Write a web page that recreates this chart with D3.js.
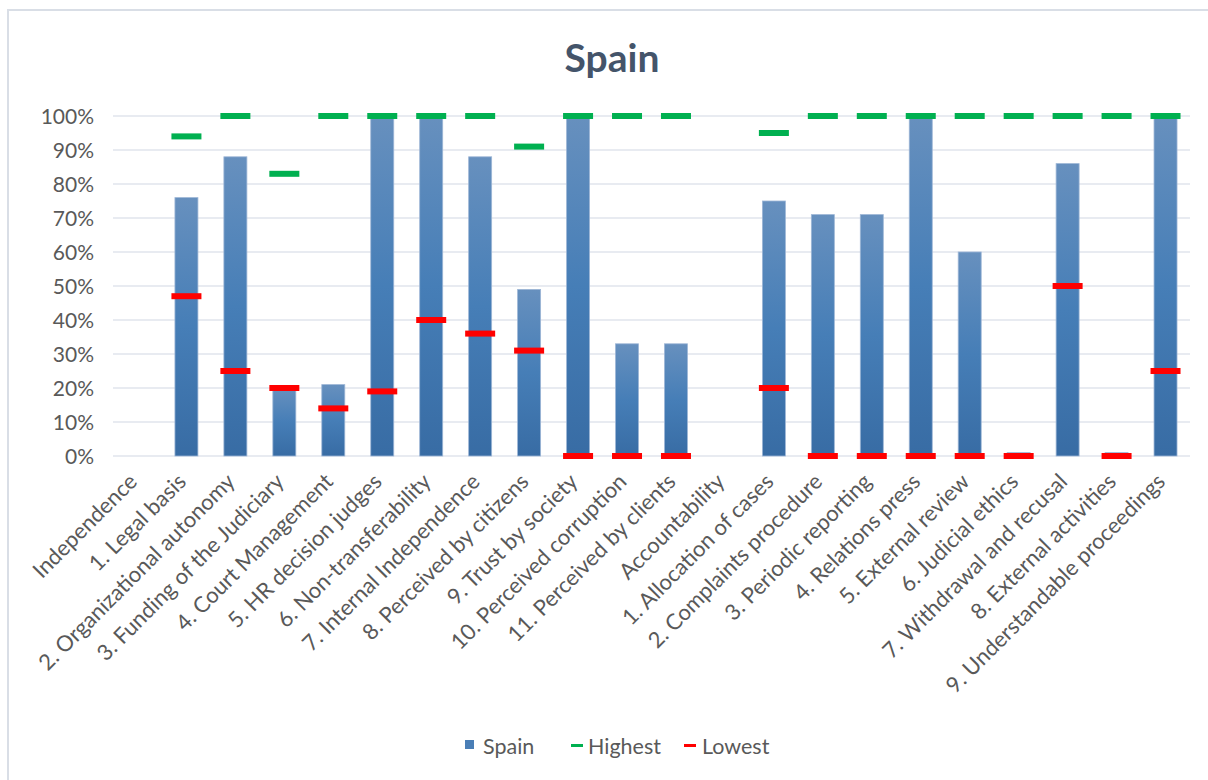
<!DOCTYPE html>
<html><head><meta charset="utf-8">
<script src="https://cdn.jsdelivr.net/npm/d3@7/dist/d3.min.js"></script>
<style>html,body{margin:0;padding:0;background:#fff;}svg{display:block;}</style>
</head><body>
<svg id="chart" width="1208" height="780"></svg>
<script>
const categories = ["Independence","1. Legal basis","2. Organizational autonomy","3. Funding of the Judiciary","4. Court Management","5. HR decision judges","6. Non-transferability","7. Internal Independence","8. Perceived by citizens","9. Trust by society","10. Perceived corruption","11. Perceived by clients","Accountability","1. Allocation of cases","2. Complaints procedure","3. Periodic reporting","4. Relations press","5. External review","6. Judicial ethics","7. Withdrawal and recusal","8. External activities","9. Understandable proceedings"];
const spain   = [null,76,88,20,21,100,100,88,49,100,33,33,null,75,71,71,100,60,1,86,1,100];
const highest = [null,94,100,83,100,100,100,100,91,100,100,100,null,95,100,100,100,100,100,100,100,100];
const lowest  = [null,47,25,20,14,19,40,36,31,0,0,0,null,20,0,0,0,0,0,50,0,25];
const yTicks = [0,10,20,30,40,50,60,70,80,90,100];
const seriesNames = ["Spain","Highest","Lowest"];

const svg = d3.select("#chart");
const font = "Lato, 'Open Sans', sans-serif";
const textColor = "#595959";

// border
svg.append("rect").attr("x",8).attr("y",10).attr("width",1400).attr("height",1000)
  .attr("fill","#fff").attr("stroke","#D9DEE6").attr("stroke-width",2);

// title
svg.append("text").attr("x",612).attr("y",72).attr("text-anchor","middle")
  .attr("font-family",font).attr("font-weight","bold").attr("font-size",39)
  .attr("fill","#44546A").text("Spain");

const x = d3.scaleBand().domain(categories).range([113,1190]).paddingInner(0).paddingOuter(0);
const y = d3.scaleLinear().domain([0,100]).range([456,116]);

// gradient
const defs = svg.append("defs");
const grad = defs.append("linearGradient").attr("id","barGrad").attr("x1",0).attr("y1",0).attr("x2",0).attr("y2",1);
grad.append("stop").attr("offset","0%").attr("stop-color","#6790BE");
grad.append("stop").attr("offset","50%").attr("stop-color","#467EB7");
grad.append("stop").attr("offset","100%").attr("stop-color","#386CA4");

// gridlines
const grid = svg.append("g");
grid.selectAll("line").data(yTicks).join("line")
  .attr("x1",113).attr("x2",1190).attr("y1",d=>y(d)).attr("y2",d=>y(d))
  .attr("stroke","#E1E5EC").attr("stroke-width",1.5);

// y axis labels
const yAxis = d3.axisLeft(y).tickValues(yTicks).tickFormat(d=>d+"%").tickSize(0).tickPadding(0);
const yg = svg.append("g").attr("transform","translate(94,0)").call(yAxis);
yg.select(".domain").remove();
yg.selectAll("text").attr("font-family",font).attr("font-size",21).attr("fill",textColor).attr("dy","0.35em");

// bars
const bw = 23;
svg.append("g").selectAll("rect").data(categories.map((c,i)=>({c,v:spain[i]})).filter(d=>d.v!==null))
  .join("rect")
  .attr("x",d=>x(d.c)+x.bandwidth()/2-bw/2).attr("width",bw)
  .attr("y",d=>y(d.v)).attr("height",d=>y(0)-y(d.v))
  .attr("fill","url(#barGrad)").attr("stroke","#9DB6D6").attr("stroke-width",0.8);

// markers
const mw = 30, mh = 6;
function markers(arr,color){
  svg.append("g").selectAll("rect").data(categories.map((c,i)=>({c,v:arr[i]})).filter(d=>d.v!==null))
    .join("rect")
    .attr("x",d=>x(d.c)+x.bandwidth()/2-mw/2).attr("width",mw)
    .attr("y",d=>y(d.v)-mh/2).attr("height",mh)
    .attr("fill",color);
}
markers(highest,"#00B050");
markers(lowest,"#FF0000");

// x labels
const xg = svg.append("g");
xg.selectAll("text").data(categories).join("text")
  .attr("transform",d=>`translate(${x(d)+x.bandwidth()/2+1},${483}) rotate(-45)`)
  .attr("text-anchor","end")
  .attr("font-family",font).attr("font-size",22).attr("fill",textColor)
  .text(d=>d);

// legend
const lg = svg.append("g").attr("font-family",font).attr("font-size",21.5).attr("fill",textColor);
lg.append("rect").attr("x",465).attr("y",740).attr("width",9).attr("height",9).attr("fill","#4A7EB6");
lg.append("text").attr("x",483).attr("y",754).text(seriesNames[0]);
lg.append("rect").attr("x",571).attr("y",744).attr("width",12).attr("height",3).attr("fill","#00B050");
lg.append("text").attr("x",588).attr("y",754).text(seriesNames[1]);
lg.append("rect").attr("x",684).attr("y",744).attr("width",12).attr("height",3).attr("fill","#FF0000");
lg.append("text").attr("x",702).attr("y",754).text(seriesNames[2]);
</script>
</body></html>
